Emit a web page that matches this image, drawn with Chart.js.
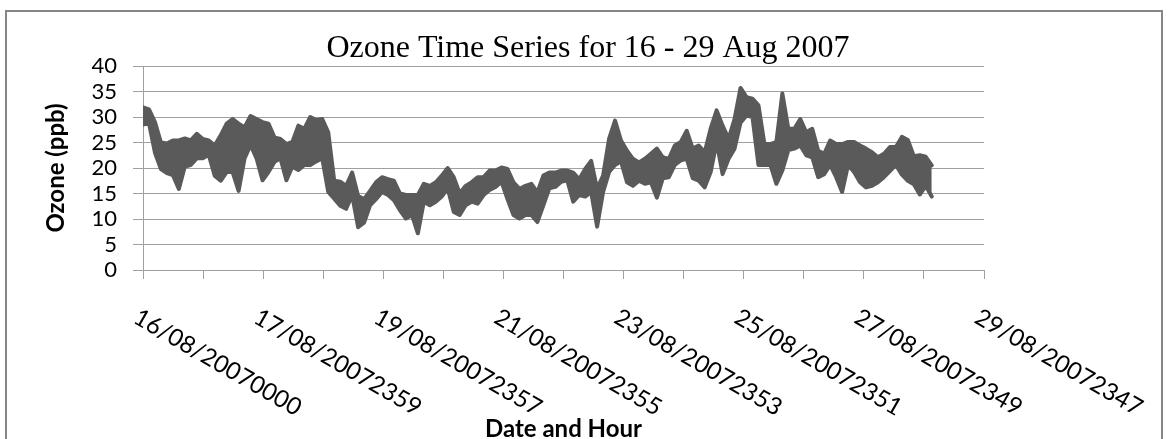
<!DOCTYPE html>
<html>
<head>
<meta charset="utf-8">
<script src="https://cdn.jsdelivr.net/npm/chart.js@4.4.1/dist/chart.umd.min.js"></script>
<style>
  html, body { margin: 0; padding: 0; background: #ffffff; }
  #wrap { position: relative; width: 1168px; height: 439px; overflow: hidden; }
  #frame { position: absolute; left: 5px; top: 10px; width: 1158px; height: 440px;
           border: 2px solid #868686; box-sizing: border-box; }
  #c { position: absolute; left: 0; top: 0; }
</style>
</head>
<body>
<div id="wrap">
  <div id="frame"></div>
  <canvas id="c" width="1168" height="439"></canvas>
</div>
<script>
// Date/hour labels, one for every second tick of the time axis
const tickLabels = [
  '16/08/20070000', '17/08/20072359', '19/08/20072357', '21/08/20072355',
  '23/08/20072353', '25/08/20072351', '27/08/20072349', '29/08/20072347'
];

// Ozone (ppb): upper and lower edge of the dense minute record, step by step
const ozoneHigh = [
  31.9, 31.5, 29.0, 25.0, 24.8, 25.4, 25.4, 25.8, 25.4, 26.7,
  25.7, 25.4, 24.4, 26.4, 28.7, 29.6, 28.7, 28.0, 30.2, 29.6,
  29.0, 28.7, 26.0, 25.7, 24.7, 25.1, 28.3, 27.7, 30.0, 29.4,
  29.6, 27.0, 17.5, 17.3, 16.5, 19.1, 14.5, 13.9, 15.5, 17.2,
  18.2, 17.8, 17.5, 15.0, 14.7, 14.7, 14.7, 16.9, 16.5, 17.2,
  18.5, 20.0, 18.2, 15.0, 16.5, 17.2, 18.2, 18.2, 19.5, 19.5,
  20.1, 19.8, 17.2, 15.9, 16.5, 16.9, 15.2, 18.5, 19.1, 19.1,
  19.5, 19.5, 19.1, 17.8, 19.8, 21.4, 15.9, 18.5, 25.7, 29.3,
  25.4, 23.4, 21.8, 21.1, 21.8, 22.8, 23.8, 22.1, 21.8, 24.4,
  25.1, 27.3, 23.8, 24.4, 23.1, 27.7, 31.3, 28.3, 25.7, 29.6,
  35.7, 33.9, 33.6, 32.3, 24.7, 24.7, 25.1, 34.6, 27.7, 27.7,
  29.6, 27.0, 27.7, 23.4, 22.8, 25.4, 24.7, 24.7, 25.1, 25.1,
  24.4, 23.8, 23.1, 22.1, 22.8, 24.1, 24.1, 26.1, 25.5, 22.3,
  22.5, 22.2, 20.5
];
const ozoneLow = [
  28.5, 28.8, 23.0, 19.8, 19.0, 18.6, 15.9, 20.3, 20.6, 21.9,
  21.9, 22.6, 18.5, 17.5, 19.2, 19.2, 15.5, 21.9, 24.5, 21.9,
  17.6, 19.2, 21.2, 21.9, 17.6, 20.3, 19.6, 20.6, 20.6, 21.3,
  21.9, 15.3, 14.0, 12.6, 12.0, 14.7, 8.4, 9.3, 12.7, 13.9,
  15.3, 14.7, 13.7, 11.7, 10.1, 10.8, 7.2, 13.4, 12.7, 13.4,
  14.4, 16.0, 11.4, 10.8, 12.7, 13.4, 13.0, 14.7, 15.7, 16.3,
  17.3, 13.9, 10.8, 10.1, 10.8, 10.8, 9.4, 12.7, 16.0, 16.3,
  17.3, 17.6, 13.4, 14.7, 14.4, 15.3, 8.5, 15.3, 19.2, 20.6,
  21.3, 17.2, 16.5, 17.5, 16.9, 17.2, 14.2, 18.0, 18.2, 20.6,
  21.5, 21.8, 18.0, 17.5, 16.2, 19.2, 25.1, 18.8, 21.8, 23.8,
  28.9, 30.3, 30.0, 20.6, 20.6, 20.6, 16.9, 19.5, 23.5, 23.8,
  24.4, 22.5, 22.1, 18.2, 18.8, 20.6, 18.2, 15.3, 20.6, 19.2,
  17.2, 16.2, 16.5, 17.2, 18.2, 19.4, 20.6, 18.7, 17.5, 16.8,
  14.8, 16.5, 14.4
];

// The axis runs over 14 day-ticks; the record covers the first 13.13 of them
const axisDays = 14;
const recordDays = 13.13;

const sans = 'Lato, "Open Sans", sans-serif';
const lineGrey = '#5a5a5a';
const gridGrey = '#a0a0a0';

const step = recordDays / (ozoneHigh.length - 1);
const highTrace = ozoneHigh.map((v, i) => ({ x: i * step, y: v }));
const lowTrace = ozoneLow.map((v, i) => ({ x: i * step, y: v }));

// Slanted date labels hanging below every second tick
const slantedDates = {
  id: 'slantedDates',
  afterDraw(chart) {
    const xs = chart.scales.x;
    const ctx = chart.ctx;
    ctx.save();
    ctx.font = '24px ' + sans;
    ctx.fillStyle = '#000000';
    ctx.textAlign = 'left';
    ctx.textBaseline = 'alphabetic';
    tickLabels.forEach((label, k) => {
      const px = xs.getPixelForValue(k * 2);
      ctx.save();
      ctx.translate(px - 11, xs.top + 52);
      ctx.rotate(Math.PI / 6);
      ctx.fillText(label, 0, 0);
      ctx.restore();
    });
    ctx.restore();
  }
};

new Chart(document.getElementById('c'), {
  type: 'line',
  data: {
    datasets: [
      {
        label: 'Ozone high',
        data: highTrace,
        borderColor: lineGrey,
        borderWidth: 4,
        borderJoinStyle: 'round',
        borderCapStyle: 'round',
        pointRadius: 0,
        tension: 0,
        fill: false
      },
      {
        label: 'Ozone low',
        data: lowTrace,
        borderColor: lineGrey,
        backgroundColor: lineGrey,
        borderWidth: 4,
        borderJoinStyle: 'round',
        borderCapStyle: 'round',
        pointRadius: 0,
        tension: 0,
        fill: '-1'
      }
    ]
  },
  options: {
    responsive: false,
    animation: false,
    events: [],
    parsing: false,
    layout: { padding: { left: 8, right: 0, top: 0, bottom: 0 } },
    plugins: {
      legend: { display: false },
      tooltip: { enabled: false },
      title: {
        display: true,
        text: 'Ozone Time Series for 16 - 29 Aug 2007',
        color: '#000000',
        font: { family: '"Liberation Serif", "Times New Roman", serif', size: 32, weight: 'normal', lineHeight: 1 },
        padding: { top: 32.5, bottom: 1.5 }
      }
    },
    scales: {
      x: {
        type: 'linear',
        min: 0,
        max: axisDays,
        ticks: { display: false, stepSize: 1 },
        grid: { drawOnChartArea: false, drawTicks: true, tickLength: 9, color: gridGrey, lineWidth: 1 },
        border: { display: true, color: gridGrey, width: 1 },
        title: {
          display: true,
          text: 'Date and Hour',
          color: '#000000',
          font: { family: sans, size: 24, weight: 'bold' },
          padding: { top: 0, bottom: -4.4 }
        },
        afterFit(scale) {
          scale.height = 169;
          scale.paddingLeft = 0;
          scale.paddingRight = 184;
        }
      },
      y: {
        min: 0,
        max: 40,
        ticks: { stepSize: 5, autoSkip: false, padding: 16, color: '#000000', font: { family: sans, size: 22 } },
        grid: { color: gridGrey, lineWidth: 1, tickLength: 10 },
        border: { display: true, color: gridGrey, width: 1 },
        title: {
          display: true,
          text: 'Ozone (ppb)',
          color: '#000000',
          font: { family: sans, size: 24, weight: 'bold' },
          padding: { top: 34, bottom: 0 }
        },
        afterFit(scale) {
          scale.width = 135;
        }
      }
    }
  },
  plugins: [slantedDates]
});
</script>
</body>
</html>
